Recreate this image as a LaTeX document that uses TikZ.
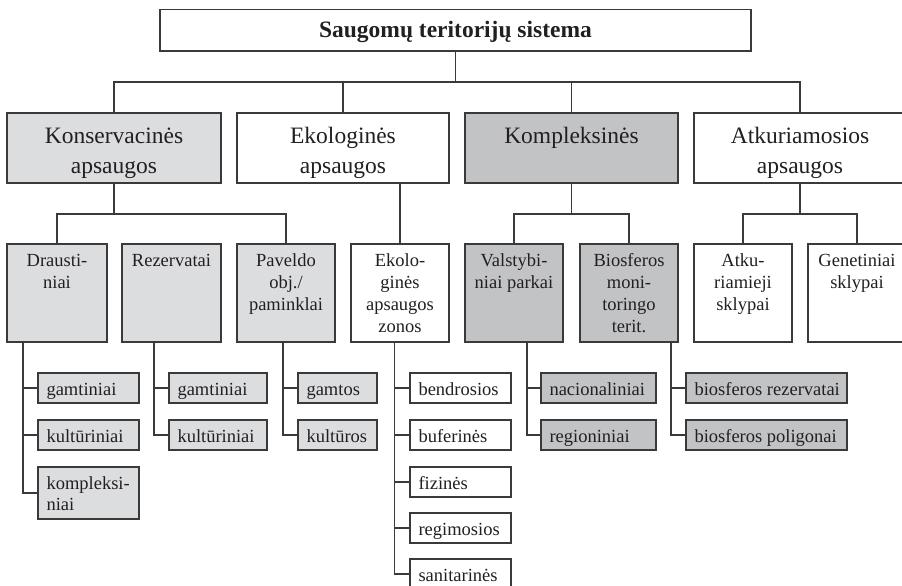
\documentclass[tikz,border=0pt]{standalone}
\usepackage{fontspec}
\setmainfont{Liberation Serif}

\definecolor{linec}{RGB}{58,58,58}
\definecolor{inkc}{RGB}{35,31,32}
\definecolor{lightg}{RGB}{220,221,223}
\definecolor{darkg}{RGB}{194,195,197}

% fixed-size cell: width, height, first baseline from top, alignment, text
\newcommand\cellbox[5]{\parbox[c][#2][t]{#1}{#4\rule{0pt}{#3}#5}}

\tikzset{
  frame/.style={draw=linec, line width=1.2pt, inner sep=0pt, outer sep=0pt,
    anchor=north west, text=inkc},
  lightbox/.style={frame, fill=lightg},
  darkbox/.style={frame, fill=darkg},
  plainbox/.style={frame, fill=white},
  wire/.style={draw=linec, line width=1.2pt},
  bigfont/.style={font=\fontsize{23.5}{30}\selectfont},
  midfont/.style={font=\fontsize{18.5}{22}\selectfont},
  leaffont/.style={font=\fontsize{18.5}{21}\selectfont},
}

\newcommand\topcell[2]{\cellbox{#1}{70pt}{30pt}{\centering}{#2}}
\newcommand\midcell[2]{\cellbox{#1}{98pt}{22pt}{\centering}{#2}}
\newcommand\leafcell[3]{\cellbox{#1}{#2}{22pt}{\raggedright\leftskip=8.5pt}{#3}}

\begin{document}
\begin{tikzpicture}[x=1pt,y=-1pt]
\useasboundingbox (0,0) rectangle (902,586);
\fill[white] (0,0) rectangle (902,586);

% root
\node[plainbox] (root) at (160,9.5)
  {\cellbox{591pt}{41.5pt}{28.5pt}{\centering\bfseries\fontsize{23.5}{26}\selectfont}{Saugomų teritorijų sistema}};

% first level
\node[lightbox, bigfont] (kons) at (7,113)   {\topcell{214pt}{Konservacinės\\apsaugos}};
\node[plainbox, bigfont] (eko)  at (237,113) {\topcell{212pt}{Ekologinės\\apsaugos}};
\node[darkbox,  bigfont] (komp) at (465,113) {\topcell{213pt}{Kompleksinės}};
\node[plainbox, bigfont] (atk)  at (694,113) {\topcell{212pt}{Atkuriamosios\\apsaugos}};

% second level
\node[lightbox, midfont] (draus) at (7,244)   {\midcell{100pt}{Drausti-\\niai}};
\node[lightbox, midfont] (rez)   at (122,244) {\midcell{99pt}{Rezervatai}};
\node[lightbox, midfont] (pav)   at (237,244) {\midcell{98pt}{Paveldo\\obj./\\paminklai}};
\node[plainbox, midfont] (zon)   at (351,244) {\midcell{98pt}{Ekolo-\\ginės\\apsaugos\\zonos}};
\node[darkbox,  midfont] (val)   at (465,244) {\midcell{98pt}{Valstybi-\\niai parkai}};
\node[darkbox,  midfont] (bio)   at (580,244) {\midcell{98pt}{Biosferos\\moni-\\toringo\\terit.}};
\node[plainbox, midfont] (atkk)  at (694,244) {\midcell{98pt}{Atku-\\riamieji\\sklypai}};
\node[plainbox, midfont] (gen)   at (808,244) {\midcell{98pt}{Genetiniai\\sklypai}};

% leaves
\node[lightbox, leaffont] (d1) at (38,373) {\leafcell{101pt}{30pt}{gamtiniai}};
\node[lightbox, leaffont] (d2) at (38,420) {\leafcell{101pt}{30pt}{kultūriniai}};
\node[lightbox, leaffont] (d3) at (38,467) {\leafcell{101pt}{52pt}{kompleksi-\\niai}};

\node[lightbox, leaffont] (r1) at (169,373) {\leafcell{98pt}{30pt}{gamtiniai}};
\node[lightbox, leaffont] (r2) at (169,420) {\leafcell{98pt}{30pt}{kultūriniai}};

\node[lightbox, leaffont] (p1) at (298,373) {\leafcell{79pt}{30pt}{gamtos}};
\node[lightbox, leaffont] (p2) at (298,420) {\leafcell{79pt}{30pt}{kultūros}};

\node[plainbox, leaffont] (z1) at (410,373) {\leafcell{101pt}{30pt}{bendrosios}};
\node[plainbox, leaffont] (z2) at (410,420) {\leafcell{101pt}{30pt}{buferinės}};
\node[plainbox, leaffont] (z3) at (410,467) {\leafcell{101pt}{30pt}{fizinės}};
\node[plainbox, leaffont] (z4) at (410,513) {\leafcell{101pt}{30pt}{regimosios}};
\node[plainbox, leaffont] (z5) at (410,559) {\leafcell{101pt}{30pt}{sanitarinės}};

\node[darkbox, leaffont] (v1) at (541,373) {\leafcell{115pt}{30pt}{nacionaliniai}};
\node[darkbox, leaffont] (v2) at (541,420) {\leafcell{115pt}{30pt}{regioniniai}};

\node[darkbox, leaffont] (b1) at (686,373) {\leafcell{161pt}{30pt}{biosferos rezervatai}};
\node[darkbox, leaffont] (b2) at (686,420) {\leafcell{161pt}{30pt}{biosferos poligonai}};

% buses
\coordinate (busA) at (0,82);
\coordinate (busB) at (0,214);

% root to first level
\draw[wire] (root.south) -- (root.south |- busA);
\draw[wire] (kons.north) |- (atk.north |- busA) -- (atk.north);
\draw[wire] (eko.north) -- (eko.north |- busA);
\draw[wire] (komp.north) -- (komp.north |- busA);

% first level to second level
\draw[wire] (kons.south) -- (kons.south |- busB);
\draw[wire] (draus.north) |- (pav.north |- busB) -- (pav.north);
\draw[wire] (zon.north) -- (zon.north |- eko.south);
\draw[wire] (komp.south) -- (komp.south |- busB);
\draw[wire] (val.north) |- (bio.north |- busB) -- (bio.north);
\draw[wire] (atk.south) -- (atk.south |- busB);
\draw[wire] (atkk.north) |- (gen.north |- busB) -- (gen.north);

% second level to leaves
\coordinate (sd) at ([xshift=16pt]draus.south west);
\coordinate (sr) at ([xshift=32pt]rez.south west);
\coordinate (sp) at ([xshift=46pt]pav.south west);
\coordinate (sz) at ([xshift=43.5pt]zon.south west);
\coordinate (sv) at ([xshift=62pt]val.south west);
\coordinate (sb) at ([xshift=91pt]bio.south west);

\draw[wire] (sd) |- (d3.west);
\draw[wire] (sd |- d1.west) -- (d1.west);
\draw[wire] (sd |- d2.west) -- (d2.west);

\draw[wire] (sr) |- (r2.west);
\draw[wire] (sr |- r1.west) -- (r1.west);

\draw[wire] (sp) |- (p2.west);
\draw[wire] (sp |- p1.west) -- (p1.west);

\draw[wire] (sz) |- (z5.west);
\foreach \n in {z1,z2,z3,z4} \draw[wire] (sz |- \n.west) -- (\n.west);

\draw[wire] (sv) |- (v2.west);
\draw[wire] (sv |- v1.west) -- (v1.west);

\draw[wire] (sb) |- (b2.west);
\draw[wire] (sb |- b1.west) -- (b1.west);
\end{tikzpicture}
\end{document}
